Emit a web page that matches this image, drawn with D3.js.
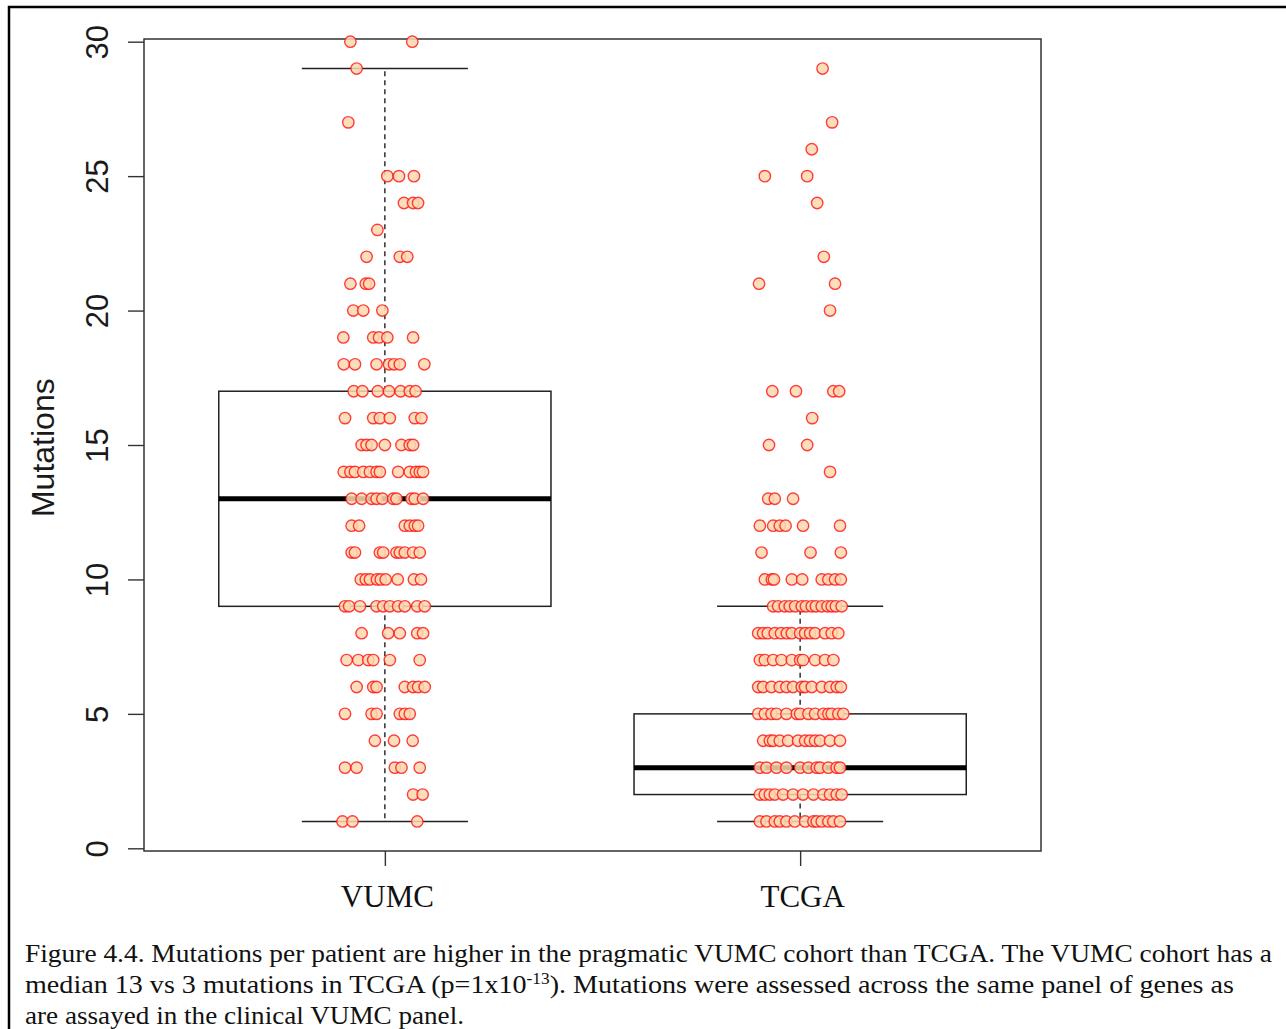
<!DOCTYPE html>
<html>
<head>
<meta charset="utf-8">
<script src="https://cdn.jsdelivr.net/npm/d3@7"></script>
<style>
  body { margin: 0; background: #fff; }
  svg { display: block; }
</style>
</head>
<body>
<div id="chart"></div>
<script>
// boxplot + jittered strip chart, VUMC vs TCGA mutations per patient

const groups = ["VUMC", "TCGA"];
// [lower whisker, Q1, median, Q3, upper whisker]
const vumcStats = [1, 9, 13, 17, 29];
const tcgaStats = [1, 2, 3, 5, 9];
const yTicks = [0, 5, 10, 15, 20, 25, 30];

// [mutations, jitter offsets from group centre (category units)]
const vumcRows = [
    [30, [-0.083, 0.066]],
    [29, [-0.068]],
    [27, [-0.088]],
    [25, [0.006, 0.034, 0.070]],
    [24, [0.046, 0.068, 0.080]],
    [23, [-0.018]],
    [22, [-0.044, 0.036, 0.054]],
    [21, [-0.083, -0.046, -0.038]],
    [20, [-0.076, -0.052, -0.006]],
    [19, [-0.100, -0.028, -0.014, 0.006, 0.068]],
    [18, [-0.099, -0.072, -0.020, 0.010, 0.022, 0.036, 0.095]],
    [17, [-0.075, -0.054, -0.017, 0.010, 0.038, 0.060, 0.074]],
    [16, [-0.096, -0.028, -0.012, 0.012, 0.072, 0.088]],
    [15, [-0.056, -0.044, -0.032, 0.000, 0.040, 0.060, 0.068]],
    [14, [-0.099, -0.083, -0.072, -0.052, -0.036, -0.020, -0.012, 0.032, 0.060, 0.075, 0.084, 0.092]],
    [13, [-0.080, -0.056, -0.032, -0.020, -0.006, 0.020, 0.028, 0.064, 0.072, 0.092]],
    [12, [-0.080, -0.062, 0.048, 0.060, 0.072, 0.080]],
    [11, [-0.080, -0.072, -0.012, -0.004, 0.028, 0.036, 0.048, 0.068, 0.084]],
    [10, [-0.058, -0.046, -0.036, -0.019, -0.010, 0.002, 0.031, 0.070, 0.087]],
    [9, [-0.096, -0.086, -0.060, -0.020, -0.004, 0.012, 0.032, 0.048, 0.078, 0.096]],
    [8, [-0.056, 0.008, 0.036, 0.078, 0.092]],
    [7, [-0.092, -0.064, -0.040, -0.028, 0.012, 0.084]],
    [6, [-0.068, -0.028, -0.020, 0.048, 0.068, 0.080, 0.096]],
    [5, [-0.096, -0.032, -0.020, 0.036, 0.048, 0.060]],
    [4, [-0.024, 0.022, 0.067]],
    [3, [-0.096, -0.068, 0.024, 0.040, 0.084]],
    [2, [0.068, 0.091]],
    [1, [-0.102, -0.078, 0.078]]
];

const tcgaRows = [
    [29, [0.054]],
    [27, [0.077]],
    [26, [0.028]],
    [25, [-0.085, 0.017]],
    [24, [0.041]],
    [22, [0.057]],
    [21, [-0.099, 0.084]],
    [20, [0.072]],
    [17, [-0.067, -0.010, 0.080, 0.094]],
    [16, [0.029]],
    [15, [-0.075, 0.017]],
    [14, [0.072]],
    [13, [-0.077, -0.061, -0.017]],
    [12, [-0.097, -0.065, -0.049, -0.035, 0.007, 0.096]],
    [11, [-0.093, 0.025, 0.098]],
    [10, [-0.085, -0.068, -0.063, -0.020, 0.005, 0.052, 0.068, 0.084, 0.098]],
    [9, [-0.065, -0.053, -0.037, -0.025, -0.012, 0.004, 0.014, 0.028, 0.038, 0.052, 0.066, 0.076, 0.086, 0.100]],
    [8, [-0.101, -0.089, -0.078, -0.061, -0.046, -0.032, -0.020, 0.000, 0.012, 0.024, 0.036, 0.060, 0.076, 0.092]],
    [7, [-0.097, -0.085, -0.065, -0.045, -0.020, 0.000, 0.007, 0.036, 0.060, 0.080]],
    [6, [-0.101, -0.089, -0.069, -0.049, -0.033, -0.017, 0.004, 0.012, 0.028, 0.052, 0.072, 0.088, 0.098]],
    [5, [-0.101, -0.085, -0.069, -0.057, -0.033, -0.008, 0.000, 0.020, 0.036, 0.056, 0.068, 0.076, 0.092, 0.104]],
    [4, [-0.089, -0.073, -0.065, -0.049, -0.029, -0.005, 0.012, 0.024, 0.036, 0.048, 0.072, 0.096]],
    [3, [-0.097, -0.081, -0.057, -0.033, 0.000, 0.020, 0.040, 0.048, 0.068, 0.088, 0.096]],
    [2, [-0.097, -0.085, -0.073, -0.061, -0.041, -0.017, 0.007, 0.032, 0.056, 0.072, 0.088, 0.100]],
    [1, [-0.097, -0.081, -0.061, -0.049, -0.033, -0.013, 0.012, 0.032, 0.040, 0.052, 0.068, 0.080, 0.096]]
];

const yLabel = "Mutations";
const captionLine1 = "Figure 4.4. Mutations per patient are higher in the pragmatic VUMC cohort than TCGA. The VUMC cohort has a";
const captionLine2a = "median 13 vs 3 mutations in TCGA (p=1x10";
const captionLine2sup = "-13";
const captionLine2b = "). Mutations were assessed across the same panel of genes as";
const captionLine3 = "are assayed in the clinical VUMC panel.";

const width = 1286, height = 1029;
const plot = { left: 144, right: 1041, top: 39, bottom: 851 };
const boxWidth = 0.8;      // category units
const stapleWidth = 0.4;

const svg = d3.select("#chart").append("svg")
    .attr("width", width)
    .attr("height", height);

// R-style axis ranges: 0.5..2.5 extended by 4%
const x = d3.scaleLinear().domain([0.42, 2.58]).range([plot.left, plot.right]);
const y = d3.scaleLinear().domain([-0.1, 30.1]).range([plot.bottom, plot.top]);

// outer figure border
svg.append("path")
    .attr("d", `M9,${height} V7 H${width}`)
    .attr("fill", "none")
    .attr("stroke", "#000")
    .attr("stroke-width", 2.5);

// y axis
const yAxis = svg.append("g")
    .attr("transform", `translate(${plot.left},0)`)
    .call(d3.axisLeft(y).tickValues(yTicks).tickSize(16).tickSizeOuter(0))
    .attr("font-size", 31)
    .attr("font-family", "'Liberation Sans', Arial, sans-serif");
yAxis.select(".domain").remove();
yAxis.selectAll("line").attr("stroke", "#333").attr("stroke-width", 1.4);
yAxis.selectAll("text")
    .attr("x", 0).attr("dy", 0)
    .attr("text-anchor", "middle")
    .attr("fill", "#1a1a1a")
    .attr("transform", "translate(-36,0) rotate(-90)");

// x axis
const xAxis = svg.append("g")
    .attr("transform", `translate(0,${plot.bottom})`)
    .call(d3.axisBottom(x).tickValues([1, 2]).tickSize(15).tickSizeOuter(0)
        .tickFormat(d => groups[d - 1]))
    .attr("font-size", 31)
    .attr("font-family", "'Liberation Serif', 'DejaVu Serif', serif");
xAxis.select(".domain").remove();
xAxis.selectAll("line").attr("stroke", "#333").attr("stroke-width", 1.4);
xAxis.selectAll("text")
    .attr("y", 56).attr("dy", 0).attr("dx", 2)
    .attr("fill", "#111");

// y label
svg.append("text")
    .attr("transform", `translate(54,${y(14.9)}) rotate(-90)`)
    .attr("text-anchor", "middle")
    .attr("font-family", "'Liberation Sans', Arial, sans-serif")
    .attr("font-size", 32)
    .attr("fill", "#1a1a1a")
    .text(yLabel);

// plot frame
svg.append("rect")
    .attr("x", plot.left).attr("y", plot.top)
    .attr("width", plot.right - plot.left)
    .attr("height", plot.bottom - plot.top)
    .attr("fill", "none")
    .attr("stroke", "#333")
    .attr("stroke-width", 1.5);

// boxes
const boxes = [
    { pos: 1, s: vumcStats },
    { pos: 2, s: tcgaStats }
];
const bg = svg.append("g").attr("stroke", "#222").attr("fill", "none");
boxes.forEach(b => {
    const [lo, q1, med, q3, hi] = b.s;
    const g = bg.append("g");
    // whiskers
    g.append("line")
        .attr("x1", x(b.pos)).attr("x2", x(b.pos))
        .attr("y1", y(q3)).attr("y2", y(hi))
        .attr("stroke-width", 1.4).attr("stroke-dasharray", "5,4");
    g.append("line")
        .attr("x1", x(b.pos)).attr("x2", x(b.pos))
        .attr("y1", y(q1)).attr("y2", y(lo))
        .attr("stroke-width", 1.4).attr("stroke-dasharray", "5,4");
    // staples
    [lo, hi].forEach(v => {
        g.append("line")
            .attr("x1", x(b.pos - stapleWidth / 2)).attr("x2", x(b.pos + stapleWidth / 2))
            .attr("y1", y(v)).attr("y2", y(v))
            .attr("stroke-width", 1.5);
    });
    // box
    g.append("rect")
        .attr("x", x(b.pos - boxWidth / 2))
        .attr("y", y(q3))
        .attr("width", x(b.pos + boxWidth / 2) - x(b.pos - boxWidth / 2))
        .attr("height", y(q1) - y(q3))
        .attr("stroke-width", 1.5);
    // median
    g.append("line")
        .attr("x1", x(b.pos - boxWidth / 2)).attr("x2", x(b.pos + boxWidth / 2))
        .attr("y1", y(med)).attr("y2", y(med))
        .attr("stroke", "#000")
        .attr("stroke-width", 5);
});

// jittered points
const toPoints = (rows, pos) => rows.flatMap(([v, js]) => js.map(j => ({ v, x: pos + j })));
const points = [...toPoints(vumcRows, 1), ...toPoints(tcgaRows, 2)];

svg.append("g")
    .selectAll("circle")
    .data(points)
    .join("circle")
    .attr("cx", d => x(d.x))
    .attr("cy", d => y(d.v))
    .attr("r", 5.7)
    .attr("fill", "#fcd8b0")
    .attr("fill-opacity", 0.85)
    .attr("stroke", "#ff1010")
    .attr("stroke-opacity", 0.8)
    .attr("stroke-width", 1.4);

// caption
const cap = svg.append("g")
    .attr("font-family", "'Liberation Serif', 'DejaVu Serif', serif")
    .attr("font-size", 26)
    .attr("fill", "#111");
cap.append("text")
    .attr("x", 25).attr("y", 962)
    .attr("textLength", 1247).attr("lengthAdjust", "spacingAndGlyphs")
    .text(captionLine1);
const l2 = cap.append("text")
    .attr("x", 25).attr("y", 993)
    .attr("textLength", 1209).attr("lengthAdjust", "spacingAndGlyphs");
l2.append("tspan").text(captionLine2a);
l2.append("tspan").attr("font-size", 16).attr("dy", -9).text(captionLine2sup);
l2.append("tspan").attr("dy", 9).text(captionLine2b);
cap.append("text")
    .attr("x", 25).attr("y", 1024)
    .attr("textLength", 439).attr("lengthAdjust", "spacingAndGlyphs")
    .text(captionLine3);
</script>
</body>
</html>
